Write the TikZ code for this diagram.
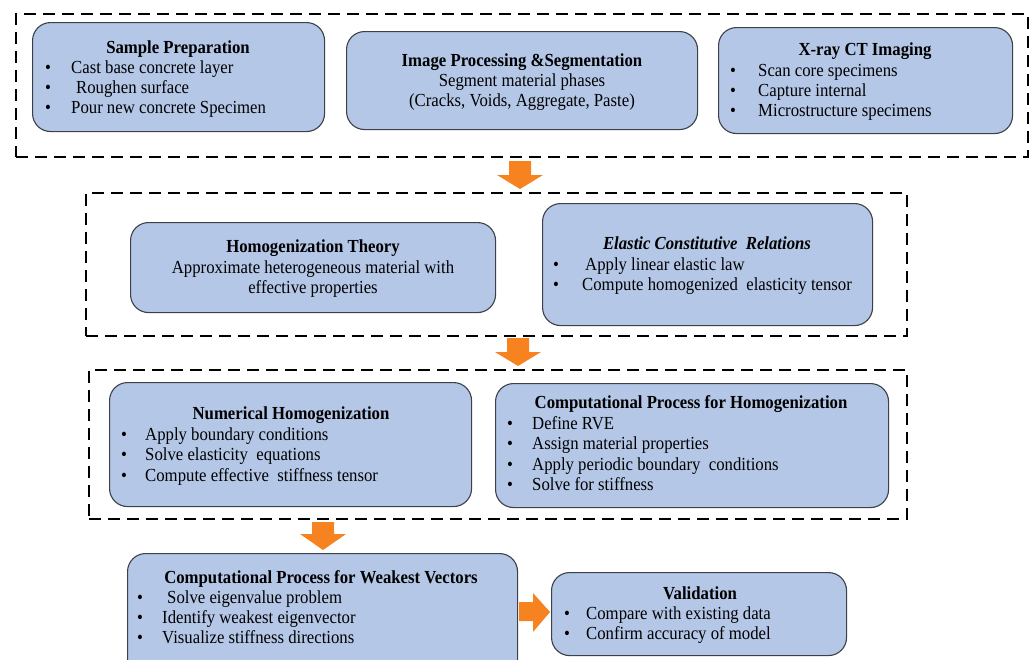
\documentclass[tikz,border=0pt]{standalone}
\usepackage{fontspec}
\setmainfont{Liberation Serif}[FakeStretch=0.91]
\definecolor{boxfill}{RGB}{180,199,231}
\definecolor{boxline}{RGB}{60,64,72}
\definecolor{arrorange}{RGB}{247,130,32}
\newcommand{\bitem}[5]{\node[bul] (#1-b) at (#2,#5) {\textbullet}; \node[item] (#1) at (#3,#5) {#4};}
\newcommand{\downarrowblock}[4]{\fill[arr] (#1-11,#2) -- (#1+11,#2) -- (#1+11,#3) -- (#1+23,#3) -- (#1,#4) -- (#1-23,#3) -- (#1-11,#3) -- cycle;}
\begin{document}
\begin{tikzpicture}[x=1pt,y=-1pt,
  every node/.style={font=\fontsize{18.4}{20}\selectfont},
  container/.style={draw=black, line width=2.2pt, dash pattern=on 12pt off 7pt, inner sep=0, anchor=north west},
  box/.style={draw=boxline, fill=boxfill, line width=1.1pt, rounded corners=18pt, inner sep=0, anchor=north west},
  title/.style={font=\fontsize{18.4}{20}\selectfont\bfseries, anchor=base, inner sep=0},
  ititle/.style={font=\fontsize{18.4}{20}\selectfont\bfseries\itshape, anchor=base, inner sep=0},
  line/.style={anchor=base, inner sep=0},
  item/.style={anchor=base west, inner sep=0},
  bul/.style={font=\fontsize{18.4}{20}\selectfont, anchor=base, inner sep=0},
  arr/.style={fill=arrorange}]
\useasboundingbox (0,0) rectangle (1030,659);
\clip (0,0) rectangle (1030,659);

% containers
\node[container, minimum width=1012, minimum height=143] (c1) at (15,13) {};
\node[container, minimum width=821, minimum height=143] (c2) at (85,192) {};
\node[container, minimum width=818, minimum height=149] (c3) at (88,369) {};

% row 1
\node[box, minimum width=292, minimum height=109] (sp) at (32,22) {};
\node[title] (sp-t) at (178,53) {Sample Preparation};
\bitem{sp1}{48}{71}{Cast base concrete layer}{73}
\bitem{sp2}{48}{76}{Roughen surface}{93}
\bitem{sp3}{48}{71}{Pour new concrete Specimen}{113}

\node[box, minimum width=351, minimum height=98] (ip) at (346,31) {};
\node[title] (ip-t) at (522,66) {Image Processing \&Segmentation};
\node[line] (ip-1) at (522,86) {Segment material phases};
\node[line] (ip-2) at (522,106) {(Cracks, Voids, Aggregate, Paste)};

\node[box, minimum width=294, minimum height=106] (ct) at (718,27) {};
\node[title] (ct-t) at (865,55) {X-ray CT Imaging};
\bitem{ct1}{733}{758}{Scan core specimens}{76}
\bitem{ct2}{733}{758}{Capture internal}{96}
\bitem{ct3}{733}{758}{Microstructure specimens}{116}

% row 2
\node[box, minimum width=365, minimum height=90] (ht) at (130,222) {};
\node[title] (ht-t) at (313,252) {Homogenization Theory};
\node[line] (ht-1) at (313,273) {Approximate heterogeneous material with};
\node[line] (ht-2) at (313,293) {effective properties};

\node[box, minimum width=330, minimum height=122] (ec) at (542,203) {};
\node[ititle] (ec-t) at (707,249) {Elastic Constitutive~ Relations};
\bitem{ec1}{556}{585}{Apply linear elastic law}{270}
\bitem{ec2}{556}{582}{Compute homogenized~ elasticity tensor}{290}

% row 3
\node[box, minimum width=362, minimum height=124] (nh) at (109,382) {};
\node[title] (nh-t) at (291,419) {Numerical Homogenization};
\bitem{nh1}{124}{145}{Apply boundary conditions}{440}
\bitem{nh2}{124}{145}{Solve elasticity~ equations}{460}
\bitem{nh3}{124}{145}{Compute effective~ stiffness tensor}{481}

\node[box, minimum width=393, minimum height=124] (cp) at (495,383) {};
\node[title] (cp-t) at (691,408) {Computational Process for Homogenization};
\bitem{cp1}{510}{532}{Define RVE}{429}
\bitem{cp2}{510}{532}{Assign material properties}{449}
\bitem{cp3}{510}{532}{Apply periodic boundary~ conditions}{470}
\bitem{cp4}{510}{532}{Solve for stiffness}{490}

% row 4
\node[box, minimum width=390, minimum height=125] (wv) at (127,553) {};
\node[title] (wv-t) at (321,583) {Computational Process for Weakest Vectors};
\bitem{wv1}{140}{167}{Solve eigenvalue problem}{603}
\bitem{wv2}{140}{162}{Identify weakest eigenvector}{623}
\bitem{wv3}{140}{162}{Visualize stiffness directions}{643}

\node[box, minimum width=295, minimum height=83] (va) at (551,572) {};
\node[title] (va-t) at (700,599) {Validation};
\bitem{va1}{567}{586}{Compare with existing data}{619}
\bitem{va2}{567}{586}{Confirm accuracy of model}{639}

% block arrows
\downarrowblock{520}{161}{175}{189}
\downarrowblock{518}{338}{352}{366}
\downarrowblock{323}{522}{534}{550}
\fill[arr] (519,602) -- (533,602) -- (533,593) -- (550,612) -- (533,632) -- (533,621) -- (519,621) -- cycle;
\end{tikzpicture}
\end{document}
